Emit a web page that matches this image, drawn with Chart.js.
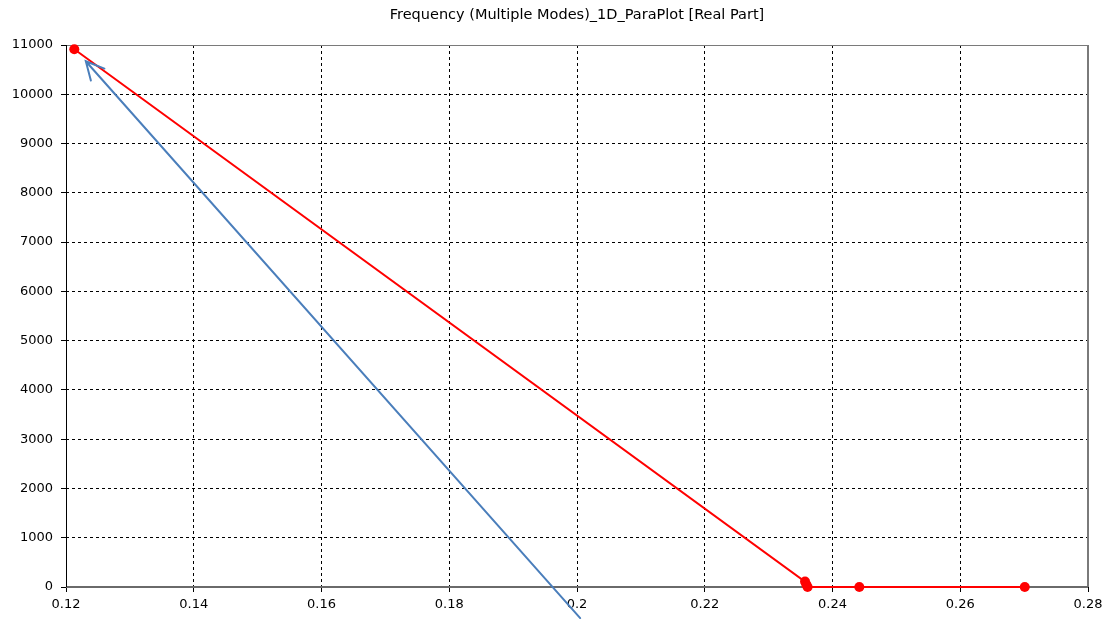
<!DOCTYPE html>
<html>
<head>
<meta charset="utf-8">
<script src="https://cdn.jsdelivr.net/npm/chart.js@4.4.1/dist/chart.umd.min.js"></script>
<style>
  html, body { margin: 0; padding: 0; background: #ffffff; }
  #wrap { width: 1103px; height: 620px; }
</style>
</head>
<body>
<div id="wrap"><canvas id="c" width="1103" height="620"></canvas></div>
<script>
// Plot title and axis tick positions
const chartTitle = 'Frequency (Multiple Modes)_1D_ParaPlot [Real Part]';
const xTicks = [0.12, 0.14, 0.16, 0.18, 0.2, 0.22, 0.24, 0.26, 0.28];
const yTicks = [0, 1000, 2000, 3000, 4000, 5000, 6000, 7000, 8000, 9000, 10000, 11000];

// Mode curve: parameter value vs. real part of frequency
const paramValues = [0.1213, 0.2357, 0.2359, 0.2361, 0.2442, 0.2701];
const realPart    = [10915, 110, 50, 0, 0, 0];

// Annotation arrow: tail and head in data coordinates [x, y]
const arrowTail = [0.2005, -630];
const arrowHead = [0.1231, 10670];

const FONT = { family: '"DejaVu Sans", sans-serif', size: 13, weight: 'normal' };
const TITLE_FONT = { family: '"DejaVu Sans", sans-serif', size: 14.5, weight: 'normal' };

const points = paramValues.map((x, i) => ({ x: x, y: realPart[i] }));

// Solid frame around the plotting area
const framePlugin = {
  id: 'frame',
  beforeDatasetsDraw(chart) {
    const { ctx, chartArea: a } = chart;
    ctx.save();
    ctx.lineCap = 'butt';
    ctx.strokeStyle = '#7a7a7a';
    ctx.lineWidth = 1;
    ctx.beginPath(); ctx.moveTo(a.left, a.top + 0.5); ctx.lineTo(a.right, a.top + 0.5); ctx.stroke();
    ctx.lineWidth = 2;
    ctx.beginPath(); ctx.moveTo(a.right, a.top); ctx.lineTo(a.right, a.bottom); ctx.stroke();
    ctx.strokeStyle = '#6a6a6a';
    ctx.beginPath(); ctx.moveTo(a.left, a.bottom); ctx.lineTo(a.right, a.bottom); ctx.stroke();
    ctx.strokeStyle = '#000000';
    ctx.lineWidth = 1;
    ctx.beginPath(); ctx.moveTo(a.left + 0.5, a.top); ctx.lineTo(a.left + 0.5, a.bottom); ctx.stroke();
    ctx.restore();
  }
};

// Arrow drawn through the chart's own scales, not clipped to the plot area
const arrowPlugin = {
  id: 'arrow',
  afterDraw(chart) {
    const { ctx, scales: { x, y } } = chart;
    const x1 = x.getPixelForValue(arrowTail[0]), y1 = y.getPixelForValue(arrowTail[1]);
    const x2 = x.getPixelForValue(arrowHead[0]), y2 = y.getPixelForValue(arrowHead[1]);
    const ang = Math.atan2(y1 - y2, x1 - x2);
    const len = 20, spread = 0.47;
    ctx.save();
    ctx.strokeStyle = '#4a7ebb';
    ctx.lineWidth = 2;
    ctx.lineCap = 'round';
    ctx.beginPath();
    ctx.moveTo(x1, y1);
    ctx.lineTo(x2, y2);
    ctx.moveTo(x2 + len * Math.cos(ang - spread), y2 + len * Math.sin(ang - spread));
    ctx.lineTo(x2, y2);
    ctx.lineTo(x2 + len * Math.cos(ang + spread), y2 + len * Math.sin(ang + spread));
    ctx.stroke();
    ctx.restore();
  }
};

new Chart(document.getElementById('c'), {
  type: 'scatter',
  data: {
    datasets: [{
      data: points,
      showLine: true,
      borderColor: '#ff0000',
      borderWidth: 2,
      backgroundColor: '#ff0000',
      pointRadius: 5,
      pointBorderWidth: 0,
      pointBackgroundColor: '#ff0000',
      tension: 0,
      clip: false
    }]
  },
  options: {
    responsive: false,
    devicePixelRatio: 1,
    animation: false,
    layout: { padding: { left: 0, right: 15, top: 0, bottom: 0 } },
    plugins: {
      legend: { display: false },
      tooltip: { enabled: false },
      title: {
        display: true,
        fullSize: false,
        text: chartTitle,
        color: '#000000',
        font: TITLE_FONT,
        padding: { top: 7, bottom: 20.6 }
      }
    },
    scales: {
      x: {
        type: 'linear',
        min: xTicks[0],
        max: xTicks[xTicks.length - 1],
        afterBuildTicks: s => { s.ticks = xTicks.map(v => ({ value: v })); },
        afterFit: s => { s.height = 33; s.paddingRight = 0; s.paddingLeft = 0; },
        ticks: {
          color: '#000000',
          font: FONT,
          padding: 5,
          maxRotation: 0,
          autoSkip: false,
          callback: v => String(+(+v).toFixed(2))
        },
        grid: {
          color: c => (c.index === 0 || c.index === xTicks.length - 1) ? 'rgba(0,0,0,0)' : '#000000',
          lineWidth: 1,
          tickColor: '#000000',
          tickLength: 5
        },
        border: { display: false, dash: [3, 3] }
      },
      y: {
        type: 'linear',
        min: yTicks[0],
        max: yTicks[yTicks.length - 1],
        afterBuildTicks: s => { s.ticks = yTicks.map(v => ({ value: v })); },
        afterFit: s => { s.width = 66; s.paddingTop = 0; s.paddingBottom = 0; },
        ticks: {
          color: '#000000',
          font: FONT,
          padding: 8,
          autoSkip: false,
          callback: v => String(v)
        },
        grid: {
          color: c => (c.index === 0 || c.index === yTicks.length - 1) ? 'rgba(0,0,0,0)' : '#000000',
          lineWidth: 1,
          tickColor: '#000000',
          tickLength: 5
        },
        border: { display: false, dash: [3, 3] }
      }
    }
  },
  plugins: [framePlugin, arrowPlugin]
});
</script>
</body>
</html>
